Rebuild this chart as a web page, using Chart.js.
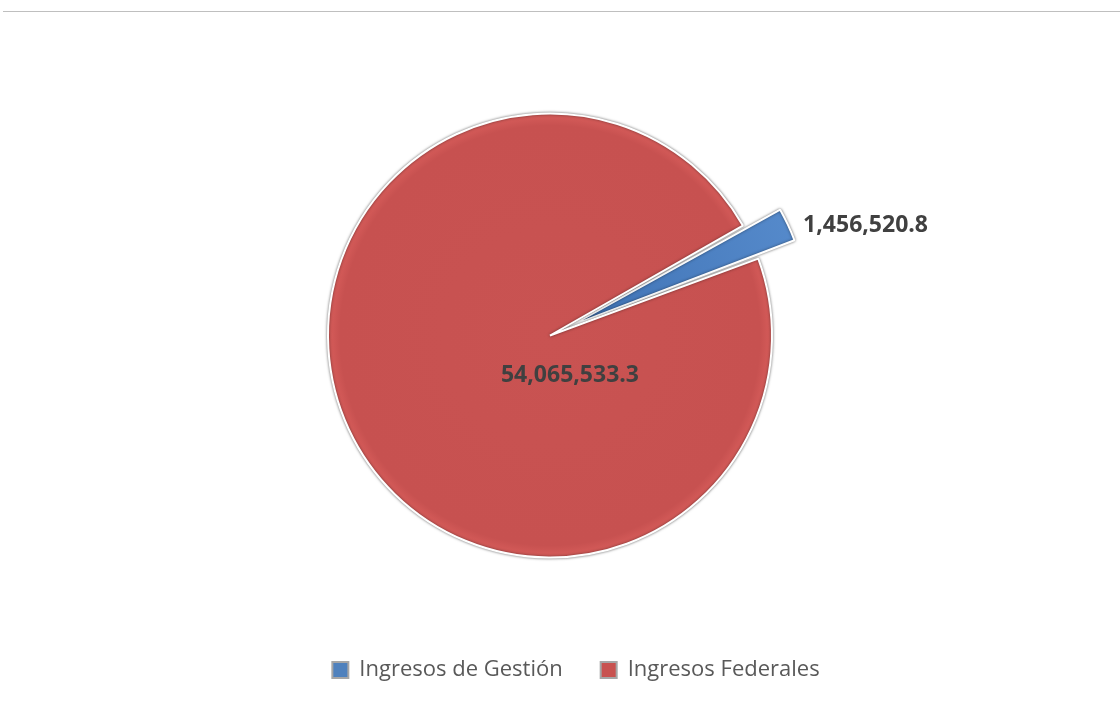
<!DOCTYPE html>
<html>
<head>
<meta charset="utf-8">
<script src="https://cdn.jsdelivr.net/npm/chart.js@4.4.1/dist/chart.umd.min.js"></script>
<style>
  html, body { margin: 0; padding: 0; background: #fff; }
  #wrap { width: 1120px; height: 705px; position: relative; }
</style>
</head>
<body>
<div id="wrap"><canvas id="pieChart"></canvas></div>
<script>
// chart data
const categories = ['Ingresos de Gestión', 'Ingresos Federales'];
const amounts = [1456520.8, 54065533.3];
const sliceColors = ['#4F81BD', '#C85250'];
const explode = [88, 0];

const fmt = v => new Intl.NumberFormat('en-US', { minimumFractionDigits: 1, maximumFractionDigits: 1 }).format(v);

// thin rule across the top of the frame
const topRule = {
    id: 'topRule',
    beforeDraw(chart) {
        const ctx = chart.ctx;
        ctx.save();
        ctx.strokeStyle = '#bfbfbf';
        ctx.lineWidth = 1.2;
        ctx.beginPath();
        ctx.moveTo(3, 11.5);
        ctx.lineTo(chart.width, 11.5);
        ctx.stroke();
        ctx.restore();
    }
};

// legend sits a bit right of the pie centre in the original
const legendNudge = {
    id: 'legendNudge',
    afterLayout(chart) {
        if (chart.legend) {
            chart.legend.left += 26;
            chart.legend.right += 26;
        }
    }
};

// soft grey edge round the slices
const sliceShadow = {
    id: 'sliceShadow',
    beforeDatasetsDraw(chart) {
        const ctx = chart.ctx;
        ctx.save();
        ctx.shadowColor = 'rgba(0,0,0,0.5)';
        ctx.shadowBlur = 3;
        ctx.shadowOffsetX = 0;
        ctx.shadowOffsetY = 0;
    },
    afterDatasetsDraw(chart) {
        chart.ctx.restore();
    }
};

// value labels
const valueLabels = {
    id: 'valueLabels',
    afterDraw(chart) {
        const ctx = chart.ctx;
        const meta = chart.getDatasetMeta(0);
        ctx.save();
        ctx.font = "bold 23px 'Open Sans', sans-serif";
        ctx.fillStyle = '#404040';
        ctx.textBaseline = 'middle';
        meta.data.forEach((arc, i) => {
            const p = arc.getProps(['x', 'y', 'startAngle', 'endAngle', 'outerRadius'], true);
            const r = p.outerRadius;
            if (i === 0) {
                const mid = (p.startAngle + p.endAngle) / 2;
                const d = r + explode[i] / 2;
                ctx.textAlign = 'left';
                ctx.fillText(fmt(amounts[i]), p.x + Math.cos(mid) * d + 12, p.y + Math.sin(mid) * d + 2);
            } else {
                ctx.textAlign = 'center';
                ctx.fillText(fmt(amounts[i]), p.x + 0.09 * r, p.y + 0.18 * r);
            }
        });
        ctx.restore();
    }
};

function sliceFill(context) {
    const base = sliceColors[context.dataIndex];
    const chart = context.chart;
    const area = chart.chartArea;
    if (!area) return base;
    const cx = (area.left + area.right) / 2;
    const cy = (area.top + area.bottom) / 2;
    const g = chart.ctx.createRadialGradient(cx, cy, 0, cx, cy, 300);
    if (context.dataIndex === 0) {
        g.addColorStop(0, '#3f72b4');
        g.addColorStop(1, '#5a8fd0');
    } else {
        g.addColorStop(0, '#c95352');
        g.addColorStop(0.7, '#c75150');
        g.addColorStop(0.73, '#d35a58');
        g.addColorStop(1, '#d35a58');
    }
    return g;
}

new Chart(document.getElementById('pieChart'), {
    type: 'pie',
    data: {
        labels: categories,
        datasets: [{
            data: amounts,
            backgroundColor: sliceFill,
            borderColor: '#ffffff',
            borderWidth: 2,
            offset: explode
        }]
    },
    options: {
        responsive: true,
        maintainAspectRatio: false,
        animation: false,
        rotation: 60.3,
        radius: 222,
        layout: { padding: { top: 50, bottom: 14, left: 0, right: 20 } },
        plugins: {
            tooltip: { enabled: false },
            legend: {
                position: 'bottom',
                labels: {
                    font: { family: "'Open Sans', sans-serif", size: 22 },
                    color: '#595959',
                    boxWidth: 16,
                    boxHeight: 16,
                    padding: 38,
                    generateLabels(chart) {
                        return categories.map((c, i) => ({
                            text: c,
                            fillStyle: sliceColors[i],
                            strokeStyle: '#a6a6a6',
                            lineWidth: 2,
                            fontColor: '#595959',
                            index: i,
                            datasetIndex: 0,
                            hidden: false
                        }));
                    }
                }
            }
        }
    },
    plugins: [topRule, legendNudge, sliceShadow, valueLabels]
});
</script>
</body>
</html>
